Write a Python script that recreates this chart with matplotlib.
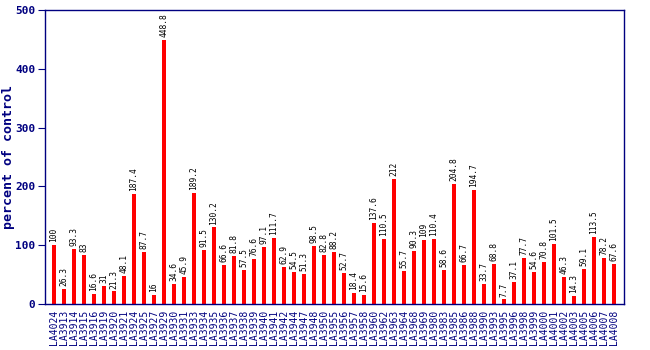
import matplotlib
matplotlib.use('Agg')
from matplotlib import pyplot as plt

labels = ['LA4024', 'LA3913', 'LA3914', 'LA3915', 'LA3916', 'LA3919', 'LA3920', 'LA3921',
          'LA3924', 'LA3925', 'LA3927', 'LA3929', 'LA3930', 'LA3931', 'LA3933', 'LA3934',
          'LA3935', 'LA3936', 'LA3937', 'LA3938', 'LA3939', 'LA3940', 'LA3941', 'LA3942',
          'LA3944', 'LA3947', 'LA3948', 'LA3950', 'LA3955', 'LA3956', 'LA3957', 'LA3958',
          'LA3960', 'LA3962', 'LA3963', 'LA3964', 'LA3968', 'LA3969', 'LA3980', 'LA3983',
          'LA3985', 'LA3986', 'LA3988', 'LA3990', 'LA3993', 'LA3995', 'LA3996', 'LA3998',
          'LA3999', 'LA4000', 'LA4001', 'LA4002', 'LA4003', 'LA4005', 'LA4006', 'LA4007',
          'LA4008']
values = [100, 26.3, 93.3, 83, 16.6, 31, 21.3, 48.1,
          187.4, 87.7, 16, 448.8, 34.6, 45.9, 189.2, 91.5,
          130.2, 66.6, 81.8, 57.5, 76.6, 97.1, 111.7, 62.9,
          54.5, 51.3, 98.5, 82.8, 88.2, 52.7, 18.4, 15.6,
          137.6, 110.5, 212, 55.7, 90.3, 109, 110.4, 58.6,
          204.8, 66.7, 194.7, 33.7, 68.8, 7.7, 37.1, 77.7,
          54.6, 70.8, 101.5, 46.3, 14.3, 59.1, 113.5, 78.2,
          67.6]
yticks = [0, 100, 200, 300, 400, 500]

navy = '#000080'
mono = 'DejaVu Sans Mono'

fig = plt.figure(figsize=(6.5, 3.5), dpi=100)
ax = fig.add_axes([45 / 650, 1 - 304 / 350, 579 / 650, 294 / 350])

x = list(range(len(labels)))
ax.bar(x, values, width=0.35, color='#ff0000', zorder=2)

# value printed above each bar
for xi, v in zip(x, values):
    ax.text(xi, v + 5, f'{v:g}', rotation=90, ha='center', va='bottom',
            fontsize=5.7, family=mono, color='black')

ax.set_xlim(-0.9, len(labels))
ax.set_ylim(0, 500)
ax.set_xticks(x)
ax.set_xticklabels(labels, rotation=90, fontsize=7, family=mono, color=navy)
ax.set_yticks(yticks)
ax.set_yticklabels([str(t) for t in yticks], fontsize=8, family=mono,
                   fontweight='bold', color=navy)
ax.tick_params(axis='x', length=0, pad=4)
ax.tick_params(axis='y', length=5, color=navy, pad=2)
for s in ax.spines.values():
    s.set_color(navy)
    s.set_linewidth(1.0)

ax.set_ylabel('percent of control', fontsize=9.5, family=mono, fontweight='bold',
              color=navy)
ax.yaxis.set_label_coords(-30 / 579, 0.5)

plt.savefig('out.png', dpi=100)
